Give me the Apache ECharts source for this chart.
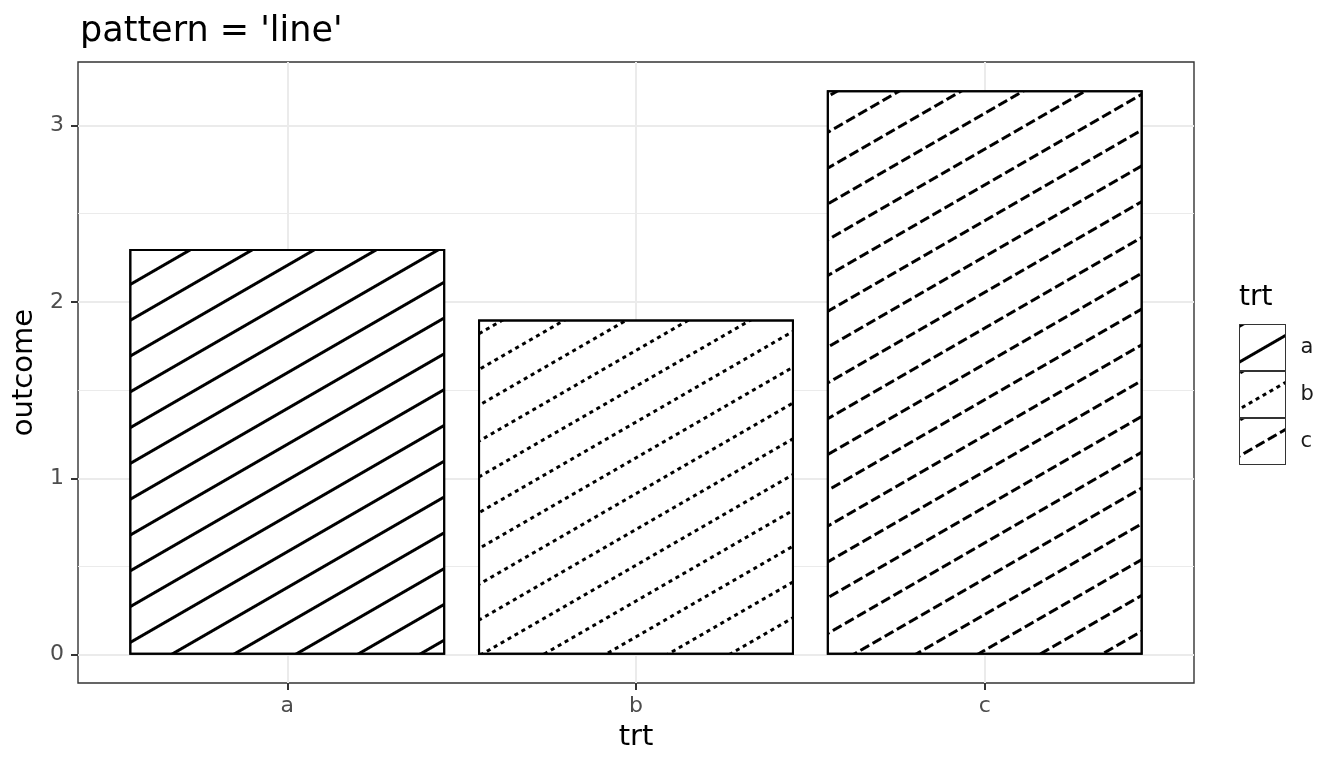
<!DOCTYPE html>
<html>
<head>
<meta charset="utf-8">
<script src="https://cdn.jsdelivr.net/npm/echarts@6/dist/echarts.min.js"></script>
<style>
  html, body { margin: 0; padding: 0; background: #fff; }
  #chart { width: 1344px; height: 768px; }
</style>
</head>
<body>
<div id="chart"></div>
<script>
let categories = ['a', 'b', 'c'];
let outcomes = [2.3, 1.9, 3.2];
let yTicks = [0, 1, 2, 3];
let yMinorTicks = [0.5, 1.5, 2.5];

// hatch dash per group: solid, '22', '42'
let hatchDash = [[1, 0], [4, 4], [10, 4]];

let font = 'DejaVu Sans';
let gridLeft = 78, gridRight = 150;
let plotWidth = 1344 - gridLeft - gridRight;
let barBorder = 2;

let xMin = 1 - 0.6, xMax = categories.length + 0.6;
let yTop = Math.max(...outcomes);
let yPad = yTop * 0.05;

function hatch(i) {
    return {
        symbol: 'rect',
        symbolSize: 1,
        color: '#000',
        backgroundColor: null,
        dashArrayX: hatchDash[i],
        dashArrayY: [2.4, 27.2],
        rotation: -Math.PI / 6
    };
}

// echarts draws the border inside the bar, so widen by the border
let series = categories.map(function (name, i) {
    return {
        name: name,
        type: 'bar',
        barGap: '-100%',
        barWidth: 0.9 * plotWidth / (xMax - xMin) + barBorder,
        data: [[i + 1, outcomes[i]]],
        itemStyle: {
            color: '#fff',
            borderColor: '#000',
            borderWidth: barBorder,
            decal: hatch(i)
        },
        emphasis: { disabled: true }
    };
});

echarts.init(document.getElementById('chart')).setOption({
    animation: false,
    textStyle: { fontFamily: font },
    title: [{
        text: "pattern = 'line'",
        left: 75,
        top: 9,
        textStyle: { fontFamily: font, fontSize: 35, fontWeight: 'normal', color: '#000' }
    }, {
        text: 'trt',
        left: 1234,
        top: 279,
        textStyle: { fontFamily: font, fontSize: 28, fontWeight: 'normal', color: '#000' }
    }],
    legend: {
        orient: 'vertical',
        left: 1239,
        top: 324,
        padding: 0,
        itemWidth: 46,
        itemHeight: 46,
        itemGap: 0,
        icon: 'rect',
        itemStyle: { borderColor: '#333', borderWidth: 1 },
        textStyle: { fontFamily: font, fontSize: 21, color: '#1a1a1a', padding: [0, 0, 0, 10] },
        data: categories
    },
    grid: {
        left: gridLeft,
        right: gridRight,
        top: 62,
        bottom: 85,
        show: true,
        borderColor: '#333',
        borderWidth: 1.4,
        backgroundColor: '#fff'
    },
    xAxis: {
        type: 'value',
        min: xMin,
        max: xMax,
        name: 'trt',
        nameLocation: 'middle',
        nameGap: 40,
        nameTextStyle: { fontFamily: font, fontSize: 29, color: '#000' },
        axisLine: { show: false, onZero: false },
        axisTick: { show: true, customValues: [1, 2, 3], length: 7, lineStyle: { color: '#333', width: 2 } },
        axisLabel: {
            customValues: [1, 2, 3],
            margin: 12,
            fontFamily: font,
            fontSize: 22,
            color: '#4d4d4d',
            formatter: function (v) { return categories[Math.round(v) - 1]; }
        },
        splitLine: { show: true, lineStyle: { color: '#ebebeb', width: 2 } }
    },
    yAxis: [{
        type: 'value',
        min: -yPad,
        max: yTop + yPad,
        name: 'outcome',
        nameLocation: 'middle',
        nameGap: 38,
        nameTextStyle: { fontFamily: font, fontSize: 29, color: '#000' },
        axisLine: { show: false },
        axisTick: { show: true, customValues: yTicks, length: 7, lineStyle: { color: '#333', width: 2 } },
        axisLabel: { customValues: yTicks, margin: 14, fontFamily: font, fontSize: 22, color: '#4d4d4d' },
        splitLine: { show: true, lineStyle: { color: '#ebebeb', width: 2 } }
    }, {
        type: 'value',
        min: -yPad,
        max: yTop + yPad,
        position: 'left',
        axisLine: { show: false },
        axisTick: { show: false, customValues: yMinorTicks },
        axisLabel: { show: false, customValues: yMinorTicks },
        splitLine: { show: true, lineStyle: { color: '#ebebeb', width: 1 } }
    }],
    series: series
});
</script>
</body>
</html>
